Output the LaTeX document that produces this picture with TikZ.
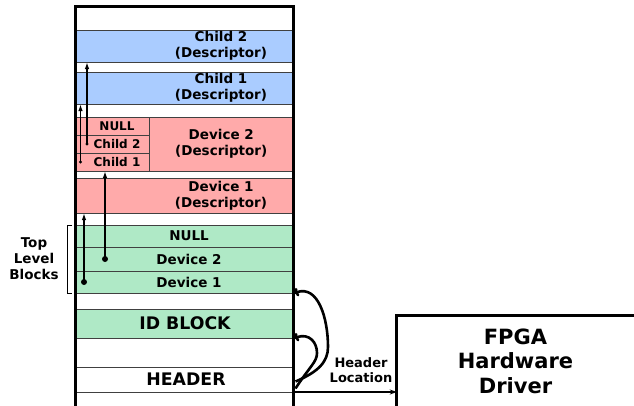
\documentclass[tikz,border=0pt]{standalone}
\usepackage{fontspec}
\setmainfont{DejaVu Sans}
\usetikzlibrary{arrows.meta}
\definecolor{descblue}{HTML}{AACCFF}
\definecolor{descpink}{HTML}{FFAAAA}
\definecolor{blockgreen}{HTML}{AFE9C6}
\begin{document}
\begin{tikzpicture}[x=1pt,y=-1pt,
  cell/.style={draw=black!75, line width=0.9pt, anchor=north west,
    minimum width=218.5pt, inner sep=0pt, outer sep=0pt},
  subcell/.style={cell, minimum width=74pt, minimum height=18pt,
    fill=descpink, font=\bfseries\fontsize{12}{14}\selectfont},
  lbl/.style={align=center, inner sep=0pt, font=\bfseries\fontsize{13.5}{15.7}\selectfont},
  biglbl/.style={inner sep=0pt, font=\bfseries\fontsize{17.3}{20}\selectfont},
  ptr/.style={line width=1.5pt, -{Latex[length=7pt,width=4.5pt]}},
  hop/.style={line width=2.6pt, -{To[length=4pt,width=9pt]}},
]
\useasboundingbox (0,0) rectangle (634,405);
\clip (0,0) rectangle (634,405);

% memory map rows, top to bottom
\node[cell, minimum height=24pt] (top) at (75,6) {};
\node[cell, fill=descblue, minimum height=32pt] (c2) at (75,30) {};
\node[cell, minimum height=10pt] (g1) at (75,62) {};
\node[cell, fill=descblue, minimum height=32pt] (c1) at (75,72) {};
\node[cell, minimum height=13pt] (g2) at (75,104) {};
\node[subcell] (d2null) at (75,117) {};
\node[subcell] (d2c2) at (75,135) {};
\node[subcell] (d2c1) at (75,153) {};
\node[cell, fill=descpink, minimum width=144.5pt, minimum height=54pt, lbl] (d2) at (149,117) {Device 2\\(Descriptor)};
\node[cell, minimum height=7pt] (g3) at (75,171) {};
\node[cell, fill=descpink, minimum height=35pt] (d1) at (75,178) {};
\node[cell, minimum height=12pt] (g4) at (75,213) {};
\node[cell, fill=blockgreen, minimum height=22pt] (tnull) at (75,225) {};
\node[cell, fill=blockgreen, minimum height=24pt] (tdev2) at (75,247) {};
\node[cell, fill=blockgreen, minimum height=22pt] (tdev1) at (75,271) {};
\node[cell, minimum height=16pt] (g5) at (75,293) {};
\node[cell, fill=blockgreen, minimum height=29pt] (idb) at (75,309) {};
\node[cell, minimum height=29pt] (g6) at (75,338) {};
\node[cell, minimum height=25pt] (hdr) at (75,367) {};
\node[cell, minimum height=20pt] (g7) at (75,392) {};

% row texts
\node[lbl] (c2t) at (221,46) {Child 2\\(Descriptor)};
\node[lbl] (c1t) at (221,88) {Child 1\\(Descriptor)};
\node[lbl] (d1t) at (221,195.5) {Device 1\\(Descriptor)};
\node[font=\bfseries\fontsize{12}{14}\selectfont, inner sep=0pt] at (117,126) {NULL};
\node[font=\bfseries\fontsize{12}{14}\selectfont, inner sep=0pt] at (117,144) {Child 2};
\node[font=\bfseries\fontsize{12}{14}\selectfont, inner sep=0pt] at (117,162) {Child 1};
\node[lbl] (tnullt) at (189,236) {NULL};
\node[lbl] (tdev2t) at (189,259) {Device 2};
\node[lbl] (tdev1t) at (189,282) {Device 1};
\node[biglbl] (idt) at (185,323.5) {ID BLOCK};
\node[biglbl] (hdrt) at (186,379.5) {HEADER};

% outer frame of the memory region
\draw[line width=3pt] (75,412) -- (75,6) -- (293.5,6) -- (293.5,412);

% bracket for the top level blocks
\draw[line width=1pt] ([xshift=-3pt]tnull.north west) -- ++(-5,0) |- ([xshift=-3pt]tdev1.south west);
\node[lbl] (tlb) at (34,258.5) {Top\\Level\\Blocks};

% pointers from entries to descriptors
\coordinate (p1) at (84,282);
\coordinate (p2) at (105,259);
\coordinate (q1) at (80.5,162);
\coordinate (q2) at (87,144);
\fill (p1) circle (3);
\fill (p2) circle (3);
\fill (q1) circle (1.7);
\fill (q2) circle (1.7);
\draw[ptr] (p1) -- (p1 |- d1.south);
\draw[ptr, line width=2pt] (p2) -- (p2 |- d2.south);
\draw[ptr] (q1) -- (q1 |- c1.south);
\draw[ptr] (q2) -- (q2 |- c2.south);

% driver box
\node[inner sep=0pt, minimum width=237pt, minimum height=90pt, align=center,
  font=\bfseries\fontsize{21}{24.4}\selectfont] (fpga) at (515.5,361) {FPGA\\Hardware\\Driver};
\draw[line width=3pt] ([yshift=-10pt]fpga.south west) -- (fpga.north west) -- ([xshift=10pt]fpga.north east);

% header location arrow and the jumps it enables
\draw[line width=1.2pt, -{Stealth[length=7pt,width=5pt]}] (hdr.south east) -- (hdr.south east -| fpga.west);
\node[align=center, inner sep=0pt, font=\bfseries\fontsize{13}{15.2}\selectfont] (hl) at (361,370.5) {Header\\Location};
\coordinate (bigturn) at (328,347);
\coordinate (smallturn) at (317,353);
\draw[hop] ([shift={(2pt,-2pt)}]hdr.east) .. controls (318,372) and (328,362) .. (bigturn)
  .. controls (328,318) and (318,285) .. ([xshift=1pt]tdev1.south east);
\draw[hop] ([shift={(2pt,-9pt)}]hdr.east) .. controls (310,366) and (317,362) .. (smallturn)
  .. controls (317,342) and (309,333) .. ([xshift=1pt]idb.south east);
\end{tikzpicture}
\end{document}
